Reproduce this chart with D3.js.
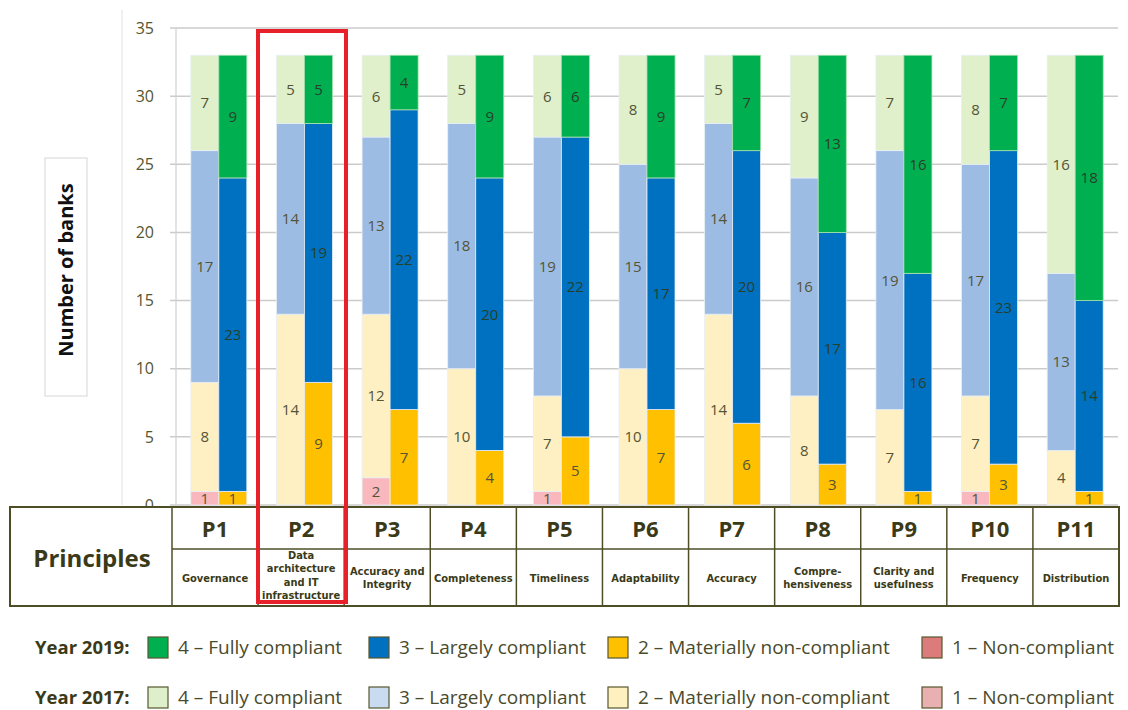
<!DOCTYPE html>
<html>
<head>
<meta charset="utf-8">
<script src="https://cdn.jsdelivr.net/npm/d3@7"></script>
<style>
  body { margin: 0; background: #fff; }
  svg { display: block; }
  text { font-family: "Open Sans", "Noto Sans", sans-serif; }
</style>
</head>
<body>
<div id="container"></div>
<script>
const width = 1128, height = 710;

// principles and their names in the table
const principles = ["P1", "P2", "P3", "P4", "P5", "P6", "P7", "P8", "P9", "P10", "P11"];
const principleNames = [
  ["Governance"],
  ["Data", "architecture", "and IT", "infrastructure"],
  ["Accuracy and", "Integrity"],
  ["Completeness"],
  ["Timeliness"],
  ["Adaptability"],
  ["Accuracy"],
  ["Compre-", "hensiveness"],
  ["Clarity and", "usefulness"],
  ["Frequency"],
  ["Distribution"]
];

// number of banks per grade, 2017
const y2017_non      = [1, 0, 2, 0, 1, 0, 0, 0, 0, 1, 0];
const y2017_material = [8, 14, 12, 10, 7, 10, 14, 8, 7, 7, 4];
const y2017_largely  = [17, 14, 13, 18, 19, 15, 14, 16, 19, 17, 13];
const y2017_fully    = [7, 5, 6, 5, 6, 8, 5, 9, 7, 8, 16];

// number of banks per grade, 2019
const y2019_non      = [0, 0, 0, 0, 0, 0, 0, 0, 0, 0, 0];
const y2019_material = [1, 9, 7, 4, 5, 7, 6, 3, 1, 3, 1];
const y2019_largely  = [23, 19, 22, 20, 22, 17, 20, 17, 16, 23, 14];
const y2019_fully    = [9, 5, 4, 9, 6, 9, 7, 13, 16, 7, 18];

const grades = ["non", "material", "largely", "fully"];
const gradeLabels = ["1 \u2013 Non-compliant", "2 \u2013 Materially non-compliant", "3 \u2013 Largely compliant", "4 \u2013 Fully compliant"];
const yTicks = [0, 5, 10, 15, 20, 25, 30, 35];

const colors = {
  "2017": { non: "#f8b8bd", material: "#fef0c3", largely: "#9dbce4", fully: "#dff0cb" },
  "2019": { non: "#dc7b7b", material: "#ffc000", largely: "#0070c0", fully: "#00af50" }
};
const legendColors = {
  "2017": { non: "#e8b0b0", material: "#fff0c0", largely: "#c8dbf1", fully: "#ddefcb" },
  "2019": colors["2019"]
};

const textCol = "#4a4a2c";
const darkCol = "#3a3a18";

const rows = principles.map((p, i) => ({
  principle: p,
  "2017": { non: y2017_non[i], material: y2017_material[i], largely: y2017_largely[i], fully: y2017_fully[i] },
  "2019": { non: y2019_non[i], material: y2019_material[i], largely: y2019_largely[i], fully: y2019_fully[i] }
}));

const svg = d3.select("#container").append("svg")
  .attr("width", width).attr("height", height);

const x = d3.scaleBand().domain(principles).range([176, 1118])
  .paddingInner(0.346).paddingOuter(0.173);
const xYear = d3.scaleBand().domain(["2017", "2019"]).range([0, x.bandwidth()]);
const y = d3.scaleLinear().domain([0, 35]).range([505, 28]);

// faint sheet line left of the ticks
svg.append("line").attr("x1", 122).attr("x2", 122).attr("y1", 10).attr("y2", 505)
  .attr("stroke", "#e6e6e6").attr("stroke-width", 1.2);

// grid
svg.append("g").selectAll("line").data(yTicks).join("line")
  .attr("x1", 170).attr("x2", 1118)
  .attr("y1", d => y(d)).attr("y2", d => y(d))
  .attr("stroke", "#cbcbcb").attr("stroke-width", 1.5);

svg.append("line").attr("x1", 176).attr("x2", 176).attr("y1", y(35)).attr("y2", y(0))
  .attr("stroke", "#d0d0d0").attr("stroke-width", 1.2);

svg.append("g").selectAll("text").data(yTicks).join("text")
  .attr("x", 154).attr("y", d => y(d)).attr("dy", "0.36em")
  .attr("text-anchor", "end")
  .attr("font-size", 16).attr("fill", "#55552e")
  .text(d => d);

// y axis title in a box
svg.append("rect").attr("x", 45).attr("y", 158).attr("width", 42).attr("height", 238)
  .attr("fill", "#fff").attr("stroke", "#d6d6d6").attr("stroke-width", 1);
svg.append("text")
  .attr("transform", "translate(73,270) rotate(-90)")
  .attr("text-anchor", "middle")
  .attr("font-size", 20).attr("font-weight", "bold").attr("fill", "#111")
  .text("Number of banks");

// stacked bars
const stack = d3.stack().keys(grades);
["2017", "2019"].forEach(year => {
  const series = stack(rows.map(r => Object.assign({ principle: r.principle }, r[year])));
  const g = svg.append("g");
  series.forEach(s => {
    const seg = g.append("g").selectAll("g").data(s).join("g");
    seg.append("rect")
      .attr("x", d => x(d.data.principle) + xYear(year))
      .attr("width", xYear.bandwidth())
      .attr("y", d => y(d[1]))
      .attr("height", d => y(d[0]) - y(d[1]))
      .attr("fill", colors[year][s.key])
      .attr("stroke", d => d[1] > d[0] ? (year === "2019" && s.key === "fully" ? "#9fe0a8" : "#e8eef4") : "none")
      .attr("stroke-width", 0.8);
    seg.filter(d => d[1] > d[0]).append("text")
      .attr("x", d => x(d.data.principle) + xYear(year) + xYear.bandwidth() / 2)
      .attr("y", d => y((d[0] + d[1]) / 2))
      .attr("dy", "0.36em")
      .attr("text-anchor", "middle")
      .attr("font-size", 15)
      .attr("fill", year === "2019" && s.key !== "material" ? "#27402a" : "#545436")
      .text(d => d[1] - d[0]);
  });
});

// table of principles
const col = d3.scaleBand().domain(principles).range([172, 1119]);
const tTop = 507, tMid = 549, tBot = 606, tLeft = 10;
const table = svg.append("g");
table.append("rect").attr("x", tLeft).attr("y", tTop)
  .attr("width", 1119 - tLeft).attr("height", tBot - tTop)
  .attr("fill", "#fff").attr("stroke", "#4e4e26").attr("stroke-width", 2);
table.append("line").attr("x1", 172).attr("x2", 1119).attr("y1", tMid).attr("y2", tMid)
  .attr("stroke", "#4e4e26").attr("stroke-width", 1.5);
table.selectAll(".vline").data(principles).join("line")
  .attr("x1", d => col(d)).attr("x2", d => col(d))
  .attr("y1", tTop).attr("y2", tBot)
  .attr("stroke", "#4e4e26").attr("stroke-width", 1.5);
table.append("text").attr("x", 92).attr("y", 558).attr("dy", "0.36em")
  .attr("text-anchor", "middle").attr("font-size", 24).attr("font-weight", "bold")
  .attr("fill", darkCol).text("Principles");
table.selectAll(".ptitle").data(principles).join("text")
  .attr("x", d => col(d) + col.bandwidth() / 2).attr("y", 529).attr("dy", "0.36em")
  .attr("text-anchor", "middle").attr("font-size", 22).attr("font-weight", "bold")
  .attr("fill", darkCol).text(d => d);
principles.forEach((p, i) => {
  const lines = principleNames[i];
  const lh = lines.length > 2 ? 13.5 : 13;
  const cy = lines.length > 2 ? 575 : 578;
  const t = table.append("text")
    .attr("text-anchor", "middle").attr("font-size", 11).attr("font-weight", "bold")
    .attr("fill", darkCol)
    .style("font-family", "'DejaVu Sans Condensed', 'Liberation Sans Narrow', sans-serif");
  lines.forEach((l, j) => {
    t.append("tspan")
      .attr("x", col(p) + col.bandwidth() / 2)
      .attr("y", cy + (j - (lines.length - 1) / 2) * lh)
      .attr("dy", "0.36em")
      .text(l);
  });
});

// highlight box around P2
svg.append("rect").attr("x", 258).attr("y", 31).attr("width", 88).attr("height", 571)
  .attr("fill", "none").attr("stroke", "#e8202a").attr("stroke-width", 4);

// legend
const legendX = [148, 369, 608, 922];
const legendOrder = ["fully", "largely", "material", "non"];
[["2019", 647], ["2017", 697]].forEach(([year, ly]) => {
  const lg = svg.append("g");
  lg.append("text").attr("x", 35).attr("y", ly).attr("dy", "0.36em")
    .attr("font-size", 18.5).attr("font-weight", "bold").attr("fill", darkCol)
    .text("Year " + year + ":");
  legendOrder.forEach((k, i) => {
    lg.append("rect").attr("x", legendX[i]).attr("y", ly - 10).attr("width", 20).attr("height", 21)
      .attr("fill", legendColors[year][k]).attr("stroke", "#57572f").attr("stroke-width", 1.2);
    lg.append("text").attr("x", legendX[i] + 30).attr("y", ly).attr("dy", "0.36em")
      .attr("font-size", 19).attr("fill", textCol)
      .text(gradeLabels[grades.indexOf(k)]);
  });
});
</script>
</body>
</html>
